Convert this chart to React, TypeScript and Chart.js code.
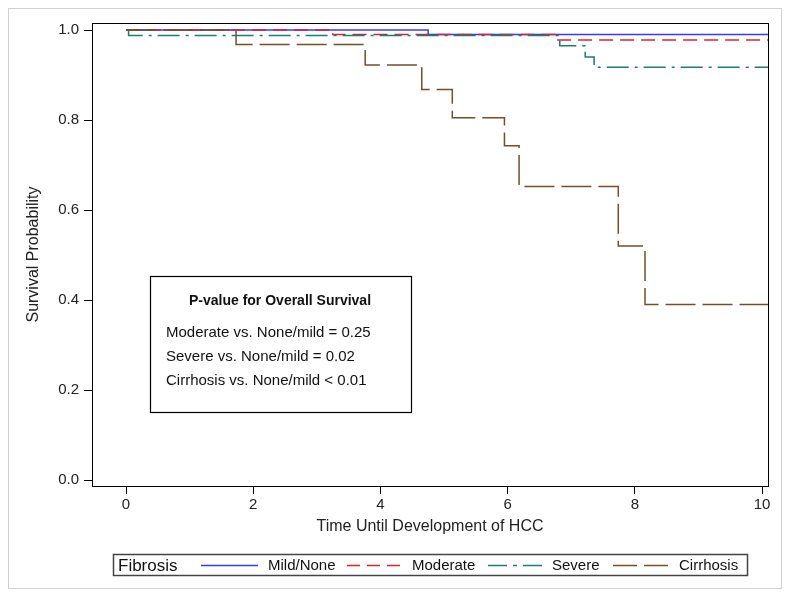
import React, { useEffect, useRef } from "react";
import { Chart, registerables } from "chart.js";

Chart.register(...registerables);

// ---- data ----
const seriesNames = ["Mild/None", "Moderate", "Severe", "Cirrhosis"];
const mildTimes = [0, 4.75, 10.094];
const mildSurv = [1.0, 0.99, 0.99];
const moderateTimes = [0, 3.25, 6.79, 10.094];
const moderateSurv = [1.0, 0.99, 0.978, 0.978];
const severeTimes = [0, 0.04, 6.82, 7.22, 7.36, 10.094];
const severeSurv = [1.0, 0.988, 0.965, 0.94, 0.917, 0.917];
const cirrhosisTimes = [0, 1.73, 3.76, 4.65, 5.13, 5.95, 6.18, 7.74, 8.16, 10.094];
const cirrhosisSurv = [1.0, 0.968, 0.922, 0.868, 0.805, 0.743, 0.652, 0.52, 0.39, 0.39];

const xTicks = [0, 2, 4, 6, 8, 10];
const yTicks = [0, 0.2, 0.4, 0.6, 0.8, 1.0];

const xTitle = "Time Until Development of HCC";
const yTitle = "Survival Probability";
const legendTitle = "Fibrosis";
const pTitle = "P-value for Overall Survival";
const pLines = [
  "Moderate vs. None/mild = 0.25",
  "Severe vs. None/mild = 0.02",
  "Cirrhosis vs. None/mild < 0.01",
];

const colors = ["#3a3af2", "#d2253a", "#1f7c6e", "#70502f"];
const dashes: number[][] = [[], [14, 7], [22, 6, 3, 6], [30, 7]];
const legendDashes: number[][] = [[], [13, 7], [19, 6, 4, 6], [24, 7]];

const FONT = "'Liberation Sans', Arial, Helvetica, sans-serif";

function zip(t: number[], s: number[]) {
  return t.map((x, i) => ({ x, y: s[i] }));
}

const decorPlugin = {
  id: "decor",
  afterDraw(chart: any) {
    const ctx = chart.ctx as CanvasRenderingContext2D;
    const ca = chart.chartArea;
    ctx.save();
    // outer frame
    ctx.strokeStyle = "#d0d0d0";
    ctx.lineWidth = 1;
    ctx.setLineDash([]);
    ctx.strokeRect(0.5, 0.5, 773, 580);
    // plot frame
    ctx.strokeStyle = "#000";
    ctx.lineWidth = 1;
    ctx.strokeRect(Math.round(ca.left) + 0.5, Math.round(ca.top) + 0.5, Math.round(ca.right - ca.left), Math.round(ca.bottom - ca.top));

    // p-value box
    ctx.lineWidth = 1.2;
    ctx.strokeRect(142.5, 268.5, 261, 136);
    ctx.fillStyle = "#111";
    ctx.textBaseline = "middle";
    ctx.textAlign = "center";
    ctx.font = `bold 14px ${FONT}`;
    ctx.fillText(pTitle, 272, 293);
    ctx.textAlign = "left";
    ctx.font = `15px ${FONT}`;
    const ys = [325, 349, 373];
    pLines.forEach((l, i) => ctx.fillText(l, 158, ys[i]));

    // legend
    ctx.strokeStyle = "#444";
    ctx.lineWidth = 1.5;
    ctx.strokeRect(105.5, 546.5, 634, 21);
    const cy = 557;
    ctx.fillStyle = "#111";
    ctx.font = `17px ${FONT}`;
    ctx.fillText(legendTitle, 110, cy + 1);
    const lineX = [[193, 250], [339, 392], [480, 534], [605, 660]];
    const textX = [260, 404, 544, 671];
    ctx.font = `15px ${FONT}`;
    seriesNames.forEach((n, i) => {
      ctx.strokeStyle = colors[i];
      ctx.lineWidth = 1.5;
      ctx.setLineDash(legendDashes[i]);
      ctx.beginPath();
      ctx.moveTo(lineX[i][0], cy + 0.5);
      ctx.lineTo(lineX[i][1], cy + 0.5);
      ctx.stroke();
      ctx.setLineDash([]);
      ctx.fillStyle = "#111";
      ctx.fillText(n, textX[i], cy + 1);
    });
    ctx.restore();
  },
};

export default function App() {
  const ref = useRef<HTMLCanvasElement | null>(null);
  useEffect(() => {
    if (!ref.current) return;
    Chart.defaults.font.family = FONT;
    const timesList = [mildTimes, moderateTimes, severeTimes, cirrhosisTimes];
    const survList = [mildSurv, moderateSurv, severeSurv, cirrhosisSurv];
    const chart = new Chart(ref.current, {
      type: "line",
      data: {
        datasets: seriesNames.map((name, i) => ({
          label: name,
          data: zip(timesList[i], survList[i]),
          borderColor: colors[i],
          backgroundColor: colors[i],
          borderWidth: 1.5,
          borderDash: dashes[i],
          pointRadius: 0,
          stepped: "before" as const,
          fill: false,
          order: 3 - i,
        })),
      },
      options: {
        animation: false,
        responsive: false,
        events: [],
        layout: { padding: { left: 0, right: 15, top: 15, bottom: 53 } },
        plugins: { legend: { display: false }, tooltip: { enabled: false } },
        scales: {
          x: {
            type: "linear",
            min: -0.535,
            max: 10.094,
            afterBuildTicks: (s: any) => {
              s.ticks = xTicks.map((v) => ({ value: v }));
            },
            afterFit: (s: any) => {
              s.height = 50;
            },
            border: { display: false },
            grid: { display: true, drawOnChartArea: false, drawTicks: true, tickLength: 8, color: "#000", lineWidth: 1 },
            ticks: {
              padding: 2,
              color: "#222",
              font: { size: 15 },
              maxRotation: 0,
              autoSkip: false,
              callback: (v: any) => String(v),
            },
            title: { display: true, text: xTitle, color: "#222", font: { size: 16 }, padding: { top: 0, bottom: 0 } },
          },
          y: {
            type: "linear",
            min: -0.0133,
            max: 1.0156,
            afterBuildTicks: (s: any) => {
              s.ticks = yTicks.map((v) => ({ value: v }));
            },
            afterFit: (s: any) => {
              s.width = 84;
            },
            border: { display: false },
            grid: { display: true, drawOnChartArea: false, drawTicks: true, tickLength: 8, color: "#000", lineWidth: 1 },
            ticks: {
              padding: 5,
              color: "#222",
              font: { size: 15 },
              autoSkip: false,
              callback: (v: any) => Number(v).toFixed(1),
            },
            title: { display: true, text: yTitle, color: "#222", font: { size: 16 }, padding: { top: 16, bottom: 0 } },
          },
        },
      },
      plugins: [decorPlugin],
    });
    return () => chart.destroy();
  }, []);
  return <canvas ref={ref} width={775} height={581} style={{ display: "block" }} />;
}
